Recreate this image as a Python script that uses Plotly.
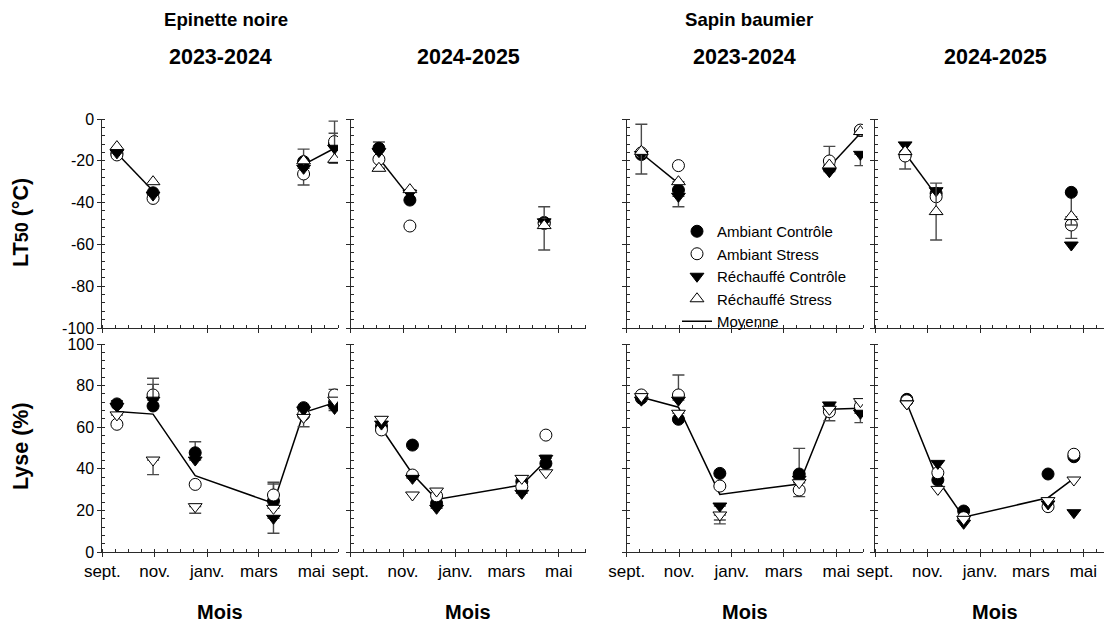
import plotly.graph_objects as go

FONT = "Liberation Sans, Arial, sans-serif"
W, H = 1104, 628

# ---------------- DATA ----------------
# Epinette noire 2023-2024 : LT50 (°C)
en1_lt_dates = ["2023-09-18", "2023-10-30", "2024-04-22", "2024-05-28"]
en1_lt_ac = [-16.4, -35.3, -20.4, -12.0]
en1_lt_as = [-17.2, -38.0, -26.3, -10.8]
en1_lt_rc = [-16.2, -36.4, -23.6, -14.0]
en1_lt_rs = [-13.2, -30.0, -20.0, -19.3]
en1_lt_mean = [-16.4, -34.5, -21.8, -14.0]
en1_lt_err = [("ac", 2, 6.0, 6.0), ("as", 2, 5.3, 5.3), ("as", 3, 9.8, 9.8), ("rc", 3, 7.2, 7.2)]

# Epinette noire 2023-2024 : Lyse (%)
en1_ly_dates = ["2023-09-18", "2023-10-30", "2023-12-18", "2024-03-18", "2024-04-22", "2024-05-28"]
en1_ly_ac = [71.2, 70.2, 47.7, 24.5, 69.4, 72.0]
en1_ly_as = [61.4, 75.5, 32.5, 27.4, 65.9, 75.5]
en1_ly_rc = [70.0, 73.0, 44.2, 16.2, 68.3, 69.0]
en1_ly_rs = [65.9, 44.2, 21.8, 21.0, 64.7, 73.0]
en1_ly_mean = [67.5, 66.3, 36.7, 23.4, 67.0, 71.8]
en1_ly_err = [("ac", 0, 1.5, 0), ("as", 1, 8.0, 0), ("rc", 1, 7.6, 0), ("rs", 1, 0, 7.0),
              ("ac", 2, 5.3, 0), ("rs", 2, 0, 3.2), ("as", 3, 6.1, 0), ("ac", 3, 8.2, 0),
              ("rc", 3, 0, 7.2), ("rs", 4, 0, 4.5), ("as", 5, 2.7, 0), ("rc", 5, 0, 1.0)]

# Epinette noire 2024-2025 : LT50 (°C)
en2_lt_dates = ["2024-10-04", "2024-11-09", "2025-04-14"]
en2_lt_ac = [-14.0, -38.8, -49.5]
en2_lt_as = [-19.3, -51.2, -50.0]
en2_lt_rc = [-15.6, -35.5, -49.2]
en2_lt_rs = [-23.6, -33.8, -51.0]
en2_lt_mean = [-18.8, -37.5, -50.0]
en2_lt_err = [("ac", 0, 3.0, 0), ("as", 2, 8.0, 0), ("rs", 2, 0, 11.7)]

# Epinette noire 2024-2025 : Lyse (%)
en2_ly_dates = ["2024-10-07", "2024-11-12", "2024-12-10", "2025-03-19", "2025-04-16"]
en2_ly_ac = [60.6, 51.4, 23.4, 33.8, 42.6]
en2_ly_as = [58.7, 37.0, 27.0, 31.4, 56.2]
en2_ly_rc = [61.5, 35.4, 21.0, 28.2, 45.0]
en2_ly_rs = [63.8, 27.4, 29.3, 35.4, 38.1]
en2_ly_mean = [59.5, 37.5, 25.3, 32.2, 43.9]
en2_ly_err = [("rc", 4, 1.5, 0)]

# Sapin baumier 2023-2024 : LT50 (°C)
sb1_lt_dates = ["2023-09-18", "2023-10-31", "2024-04-23", "2024-05-29"]
sb1_lt_ac = [-17.0, -34.0, -23.6, -5.5]
sb1_lt_as = [-16.2, -22.3, -20.1, -5.3]
sb1_lt_rc = [-17.0, -37.0, -25.2, -16.9]
sb1_lt_rs = [-15.5, -30.0, -22.0, -6.0]
sb1_lt_mean = [-16.4, -30.8, -22.8, -6.8]
sb1_lt_err = [("rs", 0, 13.0, 10.8), ("rc", 1, 0, 5.0), ("as", 2, 7.0, 0), ("rc", 3, 0, 5.4)]

# Sapin baumier 2023-2024 : Lyse (%)
sb1_ly_dates = ["2023-09-18", "2023-10-31", "2023-12-18", "2024-03-19", "2024-04-23", "2024-05-29"]
sb1_ly_ac = [73.9, 63.8, 37.8, 37.5, 69.0, 68.6]
sb1_ly_as = [75.5, 75.5, 31.7, 29.8, 67.5, 70.0]
sb1_ly_rc = [73.0, 73.0, 22.1, 35.0, 70.7, 66.7]
sb1_ly_rs = [74.7, 66.7, 17.8, 33.3, 68.6, 72.3]
sb1_ly_mean = [74.4, 69.6, 27.7, 32.7, 68.6, 69.1]
sb1_ly_err = [("as", 1, 9.6, 0), ("rs", 2, 0, 4.3), ("rc", 2, 0, 6.7), ("ac", 3, 12.3, 0),
              ("as", 3, 0, 3.2), ("as", 4, 0, 4.4), ("rc", 5, 0, 4.5)]

# Sapin baumier 2024-2025 : LT50 (°C)
sb2_lt_dates = ["2024-10-06", "2024-11-11", "2025-04-17"]
sb2_lt_ac = [-17.0, -35.6, -35.1]
sb2_lt_as = [-17.7, -37.2, -50.7]
sb2_lt_rc = [-12.4, -34.3, -60.3]
sb2_lt_rs = [-15.6, -44.3, -46.7]
sb2_lt_mean = [-16.4, -36.4, -48.0]
sb2_lt_err = [("as", 0, 0, 6.2), ("rs", 1, 13.6, 13.6), ("ac", 2, 0, 22.0), ("rs", 2, 0, 4.0)]

# Sapin baumier 2024-2025 : Lyse (%)
sb2_ly_dates = ["2024-10-08", "2024-11-13", "2024-12-13", "2025-03-21", "2025-04-20"]
sb2_ly_ac = [73.4, 34.6, 19.7, 37.5, 45.8]
sb2_ly_as = [72.7, 38.1, 16.5, 21.8, 47.0]
sb2_ly_rc = [71.2, 42.6, 13.8, 23.1, 18.9]
sb2_ly_rs = [71.2, 30.1, 15.7, 24.7, 34.6]
sb2_ly_mean = [71.5, 34.6, 16.7, 26.1, 35.4]
sb2_ly_err = []

# LT50 mean line breaks between autumn and spring (index where a new segment starts)
lt_break = 2

species = ["Epinette noire", "Sapin baumier"]
seasons = ["2023-2024", "2024-2025", "2023-2024", "2024-2025"]
month_labels = ["sept.", "nov.", "janv.", "mars", "mai"]
lt_ticks = [0, -20, -40, -60, -80, -100]
ly_ticks = [0, 20, 40, 60, 80, 100]

names = {"ac": "Ambiant Contrôle", "as": "Ambiant Stress",
         "rc": "Réchauffé Contrôle", "rs": "Réchauffé Stress"}
mean_name = "Moyenne"

panels = [
    dict(start=2023, end="2024-06-01",
         lt=(en1_lt_dates, en1_lt_ac, en1_lt_as, en1_lt_rc, en1_lt_rs, en1_lt_mean, en1_lt_err),
         ly=(en1_ly_dates, en1_ly_ac, en1_ly_as, en1_ly_rc, en1_ly_rs, en1_ly_mean, en1_ly_err)),
    dict(start=2024, end="2025-06-01",
         lt=(en2_lt_dates, en2_lt_ac, en2_lt_as, en2_lt_rc, en2_lt_rs, en2_lt_mean, en2_lt_err),
         ly=(en2_ly_dates, en2_ly_ac, en2_ly_as, en2_ly_rc, en2_ly_rs, en2_ly_mean, en2_ly_err)),
    dict(start=2023, end="2024-06-01",
         lt=(sb1_lt_dates, sb1_lt_ac, sb1_lt_as, sb1_lt_rc, sb1_lt_rs, sb1_lt_mean, sb1_lt_err),
         ly=(sb1_ly_dates, sb1_ly_ac, sb1_ly_as, sb1_ly_rc, sb1_ly_rs, sb1_ly_mean, sb1_ly_err)),
    dict(start=2024, end="2025-05-25",
         lt=(sb2_lt_dates, sb2_lt_ac, sb2_lt_as, sb2_lt_rc, sb2_lt_rs, sb2_lt_mean, sb2_lt_err),
         ly=(sb2_ly_dates, sb2_ly_ac, sb2_ly_as, sb2_ly_rc, sb2_ly_rs, sb2_ly_mean, sb2_ly_err)),
]

# ---------------- LAYOUT GEOMETRY (pixels) ----------------
x_dom_px = [(102.3, 338.0), (350.5, 585.5), (626.7, 863.0), (875.0, 1104.0)]
y_dom_px = [(119.0, 328.0), (344.0, 552.0)]  # top row, bottom row
AX = "#2a2a2a"
ERR = "#4a4a4a"


def px_x(v):
    return v / W


def px_y(v):
    return 1 - v / H


def major_dates(y0):
    return [f"{y0}-09-01", f"{y0}-11-01", f"{y0 + 1}-01-01", f"{y0 + 1}-03-01", f"{y0 + 1}-05-01"]


def half_months(y0):
    out = []
    for i in range(10):
        yy = y0 + (8 + i) // 12
        mm = (8 + i) % 12 + 1
        out += [f"{yy}-{mm:02d}-01", f"{yy}-{mm:02d}-16"]
    return out


fig = go.Figure()


def style(key, row):
    if key == "ac":
        return dict(symbol="circle", color="black")
    if key == "as":
        return dict(symbol="circle", color="white")
    if key == "rc":
        return dict(symbol="triangle-down", color="black")
    return dict(symbol="triangle-up" if row == 0 else "triangle-down", color="white")


for p, pan in enumerate(panels):
    for row, kind in enumerate(["lt", "ly"]):
        n = row * 4 + p + 1
        xa = "x" if n == 1 else f"x{n}"
        ya = "y" if n == 1 else f"y{n}"
        dates, ac, as_, rc, rs, mean, errs = pan[kind]
        legend = (n == 1)
        # mean line (segments)
        segs = [(0, lt_break), (lt_break, len(dates))] if kind == "lt" else [(0, len(dates))]
        for si, (a, b) in enumerate(segs):
            fig.add_trace(go.Scatter(
                x=dates[a:b], y=mean[a:b], mode="lines", name=mean_name,
                line=dict(color="black", width=1.5), xaxis=xa, yaxis=ya,
                showlegend=legend and si == 0, legendrank=5,
                hoverinfo="skip"))
        for rank, (key, vals) in enumerate([("ac", ac), ("as", as_), ("rc", rc), ("rs", rs)], start=1):
            st = style(key, row)
            plus = [0.0] * len(vals)
            minus = [0.0] * len(vals)
            has_err = False
            for (k, i, e_p, e_m) in errs:
                if k == key:
                    plus[i] = e_p
                    minus[i] = e_m
                    has_err = True
            err = dict(type="data", symmetric=False, array=plus, arrayminus=minus,
                       color=ERR, thickness=1.4, width=6, visible=has_err)
            fig.add_trace(go.Scatter(
                x=dates, y=vals, mode="markers", name=names[key],
                marker=dict(symbol=st["symbol"], size=12, color=st["color"],
                            line=dict(color="black", width=1)),
                error_y=err, xaxis=xa, yaxis=ya,
                showlegend=legend, legendrank=rank))

        # axes
        xd = x_dom_px[p]
        yd = y_dom_px[row]
        xkey = "xaxis" if n == 1 else f"xaxis{n}"
        ykey = "yaxis" if n == 1 else f"yaxis{n}"
        fig.layout[xkey] = dict(
            domain=[px_x(xd[0]), px_x(xd[1])], anchor=ya, type="date",
            range=[f"{pan['start']}-09-01", pan["end"]],
            tickmode="array", tickvals=major_dates(pan["start"]), ticktext=month_labels,
            showticklabels=(row == 1), ticks="outside", ticklen=4, tickwidth=1, tickcolor=AX,
            showline=True, linecolor=AX, linewidth=1, showgrid=False, zeroline=False,
            minor=dict(tickmode="array", tickvals=half_months(pan["start"]), ticks="inside",
                       ticklen=3, tickwidth=1, tickcolor=AX, showgrid=False),
            tickfont=dict(family=FONT, size=17, color="black"), automargin=False,
            fixedrange=True)
        ticks = lt_ticks if kind == "lt" else ly_ticks
        lo, hi = (-100, 0) if kind == "lt" else (0, 100)
        fig.layout[ykey] = dict(
            domain=[px_y(yd[1]), px_y(yd[0])], anchor=xa, range=[lo, hi],
            tickmode="array", tickvals=ticks, ticktext=[str(t) for t in ticks],
            showticklabels=(p == 0), ticks="outside", ticklen=4, tickwidth=1, tickcolor=AX,
            showline=True, linecolor=AX, linewidth=1, showgrid=False, zeroline=False,
            minor=dict(tickmode="array", tickvals=list(range(lo, hi + 1, 4)), ticks="inside",
                       ticklen=3, tickwidth=1, tickcolor=AX, showgrid=False),
            tickfont=dict(family=FONT, size=16, color="black"), automargin=False,
            fixedrange=True)

# ---------------- TEXT ----------------
ann = []


def text(t, x, y, size, angle=0):
    ann.append(dict(text=t, x=px_x(x), y=px_y(y), xref="paper", yref="paper",
                    xanchor="center", yanchor="middle", showarrow=False, textangle=angle,
                    font=dict(family=FONT, size=size, color="black")))


sp_x = [226, 749]
for s, xc in zip(species, sp_x):
    text(f"<b>{s}</b>", xc, 20, 18.6)
centers = [(a + b) / 2 for a, b in x_dom_px]
centers[3] = 995
for s, xc in zip(seasons, centers):
    text(f"<b>{s}</b>", xc, 57, 21.5)
    text("<b>Mois</b>", xc, 612, 20)
text("<b>LT<span style='font-size:18px'>50</span> (°C)</b>", 21, 223, 21.5, -90)
text("<b>Lyse (%)</b>", 21, 446, 21.5, -90)

fig.update_layout(
    width=W, height=H, margin=dict(l=0, r=0, t=0, b=0),
    paper_bgcolor="white", plot_bgcolor="rgba(0,0,0,0)",
    font=dict(family=FONT, color="black"),
    annotations=ann,
    legend=dict(x=px_x(677), y=px_y(215), xanchor="left", yanchor="top",
                bgcolor="rgba(0,0,0,0)", borderwidth=0, tracegroupgap=0,
                font=dict(family=FONT, size=15, color="black"),
                itemclick=False, itemdoubleclick=False),
    hovermode=False,
)

fig.write_html("out.html")
